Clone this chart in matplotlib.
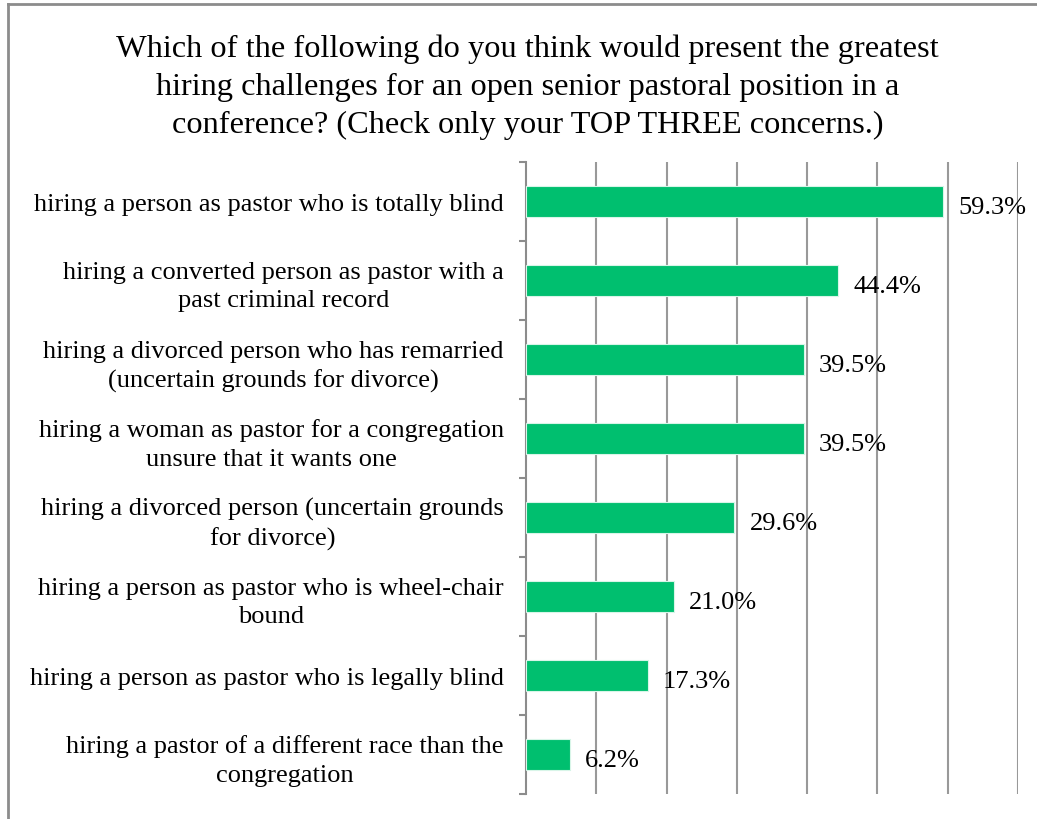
import numpy as np
import matplotlib
matplotlib.use('Agg')
import matplotlib.pyplot as plt
from matplotlib.lines import Line2D

# survey answers, top three concerns (% of respondents)
labels = ['hiring a person as pastor who is totally blind',
          'hiring a converted person as pastor with a\npast criminal record',
          'hiring a divorced person who has remarried\n(uncertain grounds for divorce)',
          'hiring a woman as pastor for a congregation\nunsure that it wants one',
          'hiring a divorced person (uncertain grounds\nfor divorce)',
          'hiring a person as pastor who is wheel-chair\nbound',
          'hiring a person as pastor who is legally blind',
          'hiring a pastor of a different race than the\ncongregation']
values = [59.3, 44.4, 39.5, 39.5, 29.6, 21.0, 17.3, 6.2]

title = ('Which of the following do you think would present the greatest\n'
         'hiring challenges for an open senior pastoral position in a\n'
         'conference? (Check only your TOP THREE concerns.)')

plt.rcParams['font.family'] = ['Liberation Serif', 'DejaVu Serif']

fig = plt.figure(figsize=(10.37, 8.2), dpi=100)
ax = fig.add_axes([526/1037, 1 - 795/820, (1018 - 526)/1037, (795 - 163)/820])

# chart frame (left and top edges)
fig.add_artist(Line2D([8/1037, 8/1037], [0, 1 - 5/820], transform=fig.transFigure,
                      color='#8c8c8c', lw=2))
fig.add_artist(Line2D([8/1037, 1], [1 - 5/820, 1 - 5/820], transform=fig.transFigure,
                      color='#8c8c8c', lw=2))

fig.text(0.509, 1 - 87/820, title, ha='center', va='center', fontsize=23.3,
         multialignment='center', linespacing=1.4)

y = np.arange(len(values))
ax.barh(y, values, height=0.39, color='#00BF6F', edgecolor='#d8f5e8', linewidth=0.8, zorder=3)

for yi, v in zip(y, values):
    ax.text(v + 2.2, yi + 0.07, f'{v:.1f}%', va='center', ha='left', fontsize=19, zorder=4)

ax.set_xlim(0, 70)
ax.set_ylim(len(values) - 0.5, -0.5)
ax.set_xticks(np.arange(10, 71, 10))
ax.xaxis.grid(True, color='#999999', lw=1.5, zorder=0)
ax.tick_params(axis='x', length=0, labelbottom=False)

ax.set_yticks(y)
ax.set_yticklabels(labels, fontsize=19, multialignment='center', linespacing=1.38)
ax.set_yticks(np.arange(-0.5, len(values), 1), minor=True)
ax.tick_params(axis='y', which='major', length=0, pad=16)
ax.tick_params(axis='y', which='minor', length=5, width=1.5, color='#8c8c8c')

for s in ['top', 'right', 'bottom']:
    ax.spines[s].set_visible(False)
ax.spines['left'].set_color('#8c8c8c')
ax.spines['left'].set_linewidth(1.5)

plt.savefig('out.png', dpi=100)
